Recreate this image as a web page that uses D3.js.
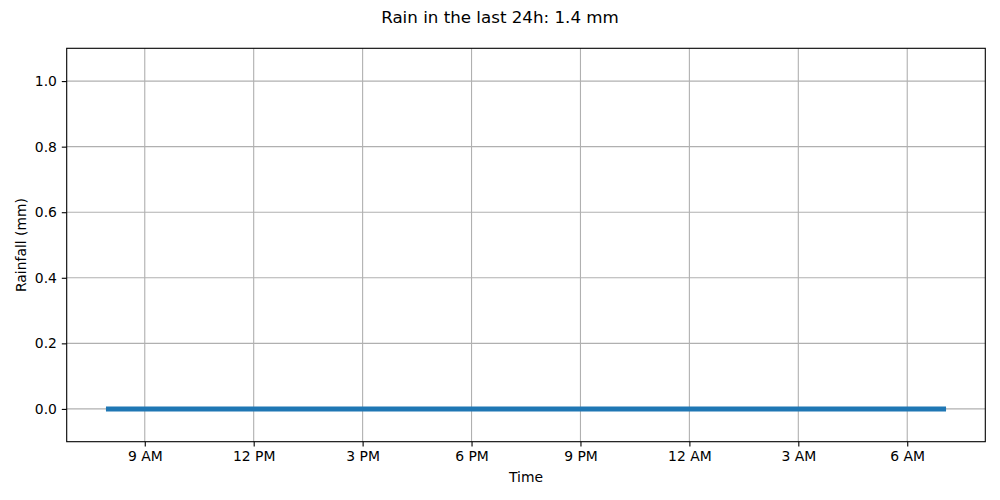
<!DOCTYPE html>
<html><head><meta charset="utf-8">
<script src="https://cdn.jsdelivr.net/npm/d3@7"></script>
<style>body{margin:0;background:#fff}text{font-family:"DejaVu Sans",sans-serif}</style>
</head><body><svg id="c" width="1000" height="500"></svg>
<script>
const times = ["2024-01-01T08:00","2024-01-01T09:00","2024-01-01T10:00","2024-01-01T11:00","2024-01-01T12:00","2024-01-01T13:00","2024-01-01T14:00","2024-01-01T15:00","2024-01-01T16:00","2024-01-01T17:00","2024-01-01T18:00","2024-01-01T19:00","2024-01-01T20:00","2024-01-01T21:00","2024-01-01T22:00","2024-01-01T23:00","2024-01-02T00:00","2024-01-02T01:00","2024-01-02T02:00","2024-01-02T03:00","2024-01-02T04:00","2024-01-02T05:00","2024-01-02T06:00","2024-01-02T07:00"];
const rainfall = [0,0,0,0,0,0,0,0,0,0,0,0,0,0,0,0,0,0,0,0,0,0,0,0];
const yTicks = [0.0,0.2,0.4,0.6,0.8,1.0];
const yLimits = [-0.1,1.1];
const titleText = "Rain in the last 24h: 1.4 mm";

const svg = d3.select("#c");
const L=66.7,R=985.3,T=48.3,B=441.7;
const parse = s => new Date(s+":00Z");
const data = times.map((t,i)=>({t:parse(t),v:rainfall[i]}));
const ext = d3.extent(data,d=>d.t);
const span = ext[1]-ext[0];
const x = d3.scaleUtc().domain([new Date(+ext[0]-span*0.05),new Date(+ext[1]+span*0.05)]).range([L,R]);
const y = d3.scaleLinear().domain(yLimits).range([B,T]);
const xTicks = x.ticks(d3.utcHour.every(3)).filter(d=>d.getUTCHours()%3===0);

// grid
svg.append("g").selectAll("line").data(xTicks).join("line")
  .attr("x1",d=>x(d)).attr("x2",d=>x(d)).attr("y1",T).attr("y2",B)
  .attr("stroke","#b0b0b0").attr("stroke-width",1.1);
svg.append("g").selectAll("line").data(yTicks).join("line")
  .attr("x1",L).attr("x2",R).attr("y1",d=>y(d)).attr("y2",d=>y(d))
  .attr("stroke","#b0b0b0").attr("stroke-width",1.1);

// line
svg.append("path").datum(data)
  .attr("d",d3.line().x(d=>x(d.t)).y(d=>y(d.v)))
  .attr("fill","none").attr("stroke","#1f77b4").attr("stroke-width",5)
  .attr("stroke-linecap","square");

// axes
const xa = svg.append("g").attr("transform",`translate(0,${B})`)
  .call(d3.axisBottom(x).tickValues(xTicks).tickFormat(d3.utcFormat("%-I %p")).tickSizeOuter(0).tickSize(4.9).tickPadding(4.9));
const ya = svg.append("g").attr("transform",`translate(${L},0)`)
  .call(d3.axisLeft(y).tickValues(yTicks).tickFormat(d3.format(".1f")).tickSizeOuter(0).tickSize(4.9).tickPadding(4.9));
[xa,ya].forEach(g=>{g.select(".domain").remove();
  g.selectAll("line").attr("stroke","#000").attr("stroke-width",1.1);
  g.selectAll("text").attr("font-size","13.9px").attr("fill","#000").style("font-family","DejaVu Sans");});

// frame
svg.append("rect").attr("x",L).attr("y",T).attr("width",R-L).attr("height",B-T)
  .attr("fill","none").attr("stroke","#000").attr("stroke-width",1.1);

svg.append("text").attr("x",(L+R)/2).attr("y",482).attr("text-anchor","middle")
  .attr("font-size","13.9px").text("Time");
svg.append("text").attr("transform",`translate(26,${(T+B)/2}) rotate(-90)`).attr("text-anchor","middle")
  .attr("font-size","13.9px").text("Rainfall (mm)");
svg.append("text").attr("x",500).attr("y",23).attr("text-anchor","middle")
  .attr("font-size","16.7px").text(titleText);
</script></body></html>
